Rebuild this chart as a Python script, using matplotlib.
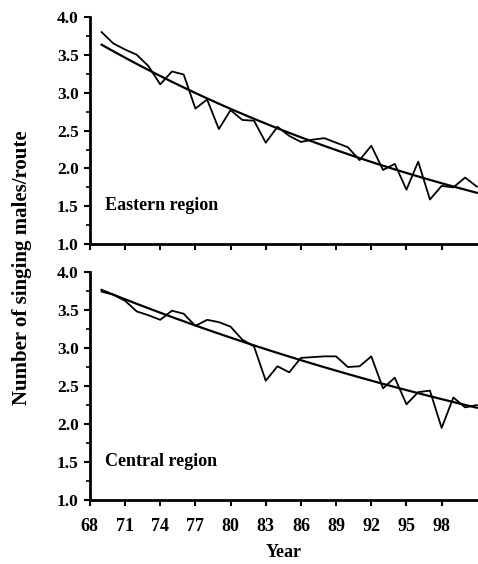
import numpy as np
import matplotlib
matplotlib.use("Agg")
import matplotlib.pyplot as plt
from matplotlib.ticker import MultipleLocator

years = list(range(69, 102))

eastern = [3.80, 3.65, 3.57, 3.50, 3.35, 3.11, 3.28, 3.24, 2.79, 2.91,
           2.52, 2.77, 2.64, 2.63, 2.34, 2.55, 2.43, 2.35, 2.38, 2.40,
           2.34, 2.28, 2.11, 2.30, 1.98, 2.06, 1.72, 2.09, 1.59, 1.77,
           1.75, 1.88, 1.76]

central = [3.74, 3.70, 3.62, 3.48, 3.43, 3.37, 3.49, 3.45, 3.29, 3.37,
           3.34, 3.28, 3.11, 3.02, 2.57, 2.76, 2.68, 2.87, 2.88, 2.89,
           2.89, 2.75, 2.76, 2.89, 2.47, 2.61, 2.26, 2.42, 2.44, 1.95,
           2.35, 2.22, 2.25]

regions = ["Eastern region", "Central region"]
yticks = [1.0, 1.5, 2.0, 2.5, 3.0, 3.5, 4.0]
xticks = [68, 71, 74, 77, 80, 83, 86, 89, 92, 95, 98]

serif = ["Liberation Serif", "DejaVu Serif"]


def trend(x, y):
    # log-linear (exponential) fit, as used for route-regression trends
    b, a = np.polyfit(x, np.log(y), 1)
    xs = np.linspace(min(x), max(x), 100)
    return xs, np.exp(a + b * xs)


def main() -> None:
    fig = plt.figure(figsize=(4.78, 5.64), dpi=100)
    ax1 = fig.add_axes([0.188, 0.567, 0.812, 0.403])
    ax2 = fig.add_axes([0.188, 0.113, 0.812, 0.405])

    for ax, vals, name in [(ax1, eastern, regions[0]), (ax2, central, regions[1])]:
        ax.plot(years, vals, color="black", lw=1.3)
        tx, ty = trend(years, vals)
        ax.plot(tx, ty, color="black", lw=1.6)

        ax.set_yticks(yticks)
        ax.set_yticklabels([f"{v:.1f}" for v in yticks],
                           family=serif, fontweight="bold", fontsize=12.5)
        ax.yaxis.set_minor_locator(MultipleLocator(0.25))
        ax.set_xticks(xticks)
        ax.set_xlim(68, 101.1)
        ax.set_ylim(1.0, 4.0)
        ax.spines["top"].set_visible(False)
        ax.spines["right"].set_visible(False)
        ax.spines["left"].set_linewidth(2)
        ax.spines["bottom"].set_linewidth(2)
        ax.tick_params(which="major", length=4, width=1.5, direction="out", pad=4)
        ax.tick_params(which="minor", length=3, width=1.2, direction="out")
        ax.text(0.04, 0.15, name, transform=ax.transAxes, family=serif,
                fontweight="bold", fontsize=13)

    ax1.set_xticklabels([])
    ax2.set_xticklabels([str(v) for v in xticks], family=serif,
                        fontweight="bold", fontsize=13)
    ax2.tick_params(axis="x", pad=9)
    ax2.set_xlabel("Year", family=serif, fontweight="bold", fontsize=13, labelpad=6)

    fig.text(0.047, 0.525, "Number of singing males/route", rotation=90,
             va="center", ha="center", family=serif, fontweight="bold", fontsize=15)

    fig.savefig("out.png", dpi=100)


if __name__ == "__main__":
    main()
